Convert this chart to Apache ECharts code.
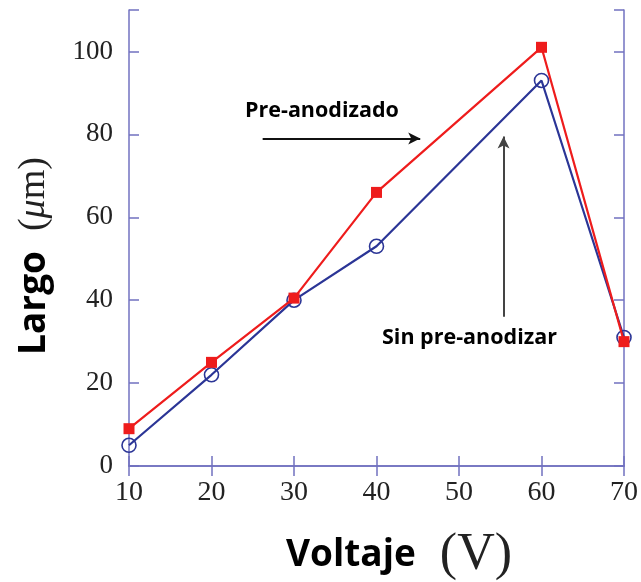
<!DOCTYPE html>
<html>
<head>
<meta charset="utf-8">
<script src="https://cdn.jsdelivr.net/npm/echarts@6/dist/echarts.min.js"></script>
<style>html,body{margin:0;padding:0;background:#fff}#c{width:641px;height:582px}</style>
</head>
<body>
<div id="c"></div>
<script>
const voltages = [10, 20, 30, 40, 60, 70];
const preAnodizado = [9, 25, 40.5, 66, 101, 30];
const sinPreAnodizar = [5, 22, 40, 53, 93, 31];
const xTicks = [10, 20, 30, 40, 50, 60, 70];
const yTicks = [0, 20, 40, 60, 80, 100];
// annotation arrows in data coordinates
const arrowPre = [[26.2, 79], [45.3, 79]];
const arrowSin = [[55.4, 36], [55.4, 79.5]];

const frame = '#7272c0';
const chart = echarts.init(document.getElementById('c'));
const axisCommon = {
  axisLine: {show: true, lineStyle: {color: frame, width: 1.5}},
  axisTick: {show: true, inside: true, length: 10, lineStyle: {color: frame, width: 1.5}},
  splitLine: {show: false}
};
chart.setOption({
  animation: false,
  grid: {left: 129, top: 10, width: 496, height: 456},
  xAxis: [
    Object.assign({type: 'value', min: 10, max: 70, interval: 10, position: 'bottom',
      axisLabel: {color: '#222', fontFamily: 'Liberation Serif', fontSize: 28, margin: 13,
        formatter: v => xTicks.indexOf(v) >= 0 ? String(v) : ''}}, axisCommon),
    Object.assign({type: 'value', min: 10, max: 70, interval: 10, position: 'top',
      axisLabel: {show: false}}, axisCommon)
  ],
  yAxis: [
    Object.assign({type: 'value', min: 0, max: 110, interval: 20, position: 'left',
      axisLabel: {color: '#222', fontFamily: 'Liberation Serif', fontSize: 27, margin: 16,
        formatter: v => yTicks.indexOf(v) >= 0 ? String(v) : ''}}, axisCommon),
    Object.assign({type: 'value', min: 0, max: 110, interval: 20, position: 'right',
      axisLabel: {show: false}}, axisCommon)
  ],
  series: [
    {
      name: 'Sin pre-anodizar', type: 'line', z: 2,
      data: voltages.map((v, i) => [v, sinPreAnodizar[i]]),
      symbol: 'circle', symbolSize: 14,
      lineStyle: {color: '#2b3596', width: 2.2},
      itemStyle: {color: 'rgba(0,0,0,0)', borderColor: '#2b3596', borderWidth: 1.6},
      markLine: {
        silent: true, symbol: ['none', 'arrow'], symbolSize: [9, 12],
        label: {show: false},
        lineStyle: {color: '#444', width: 2, type: 'solid'},
        data: [
          [{coord: arrowSin[0]}, {coord: arrowSin[1]}]
        ]
      }
    },
    {
      name: 'Pre-anodizado', type: 'line', z: 3,
      data: voltages.map((v, i) => [v, preAnodizado[i]]),
      symbol: 'rect', symbolSize: 11,
      lineStyle: {color: '#ee1c1c', width: 2.2},
      itemStyle: {color: '#ee1c1c'},
      markLine: {
        silent: true, symbol: ['none', 'arrow'], symbolSize: [9, 12],
        label: {show: false},
        lineStyle: {color: '#111', width: 1.8, type: 'solid'},
        data: [
          [{coord: arrowPre[0]}, {coord: arrowPre[1]}]
        ]
      }
    }
  ],
  graphic: [
    {type: 'text', left: 245, top: 100, style: {text: 'Pre-anodizado', fill: '#000',
      font: 'bold 21.5px "Open Sans"'}},
    {type: 'text', left: 382, top: 327, style: {text: 'Sin pre-anodizar', fill: '#000',
      font: 'bold 21.5px "Open Sans"'}},
    {type: 'text', x: 399, y: 555, style: {
      text: '{a|Voltaje}{b|(V)}', align: 'center', verticalAlign: 'middle',
      rich: {
        a: {fontFamily: 'Open Sans', fontWeight: 'bold', fontSize: 37, fill: '#000', padding: [0, 24, 0, 0]},
        b: {fontFamily: 'Liberation Serif', fontSize: 52, fill: '#222'}
      }}},
    {type: 'text', x: 34, y: 256, rotation: Math.PI / 2, style: {
      text: '{a|Largo}{b|(}{c|μ}{b|m)}', align: 'center', verticalAlign: 'middle',
      rich: {
        a: {fontFamily: 'Open Sans', fontWeight: 'bold', fontSize: 37, fill: '#000', padding: [0, 20, 0, 0]},
        b: {fontFamily: 'Liberation Serif', fontSize: 38, fill: '#222'},
        c: {fontFamily: 'Liberation Serif', fontStyle: 'italic', fontSize: 38, fill: '#222'}
      }}}
  ]
});
</script>
</body>
</html>
